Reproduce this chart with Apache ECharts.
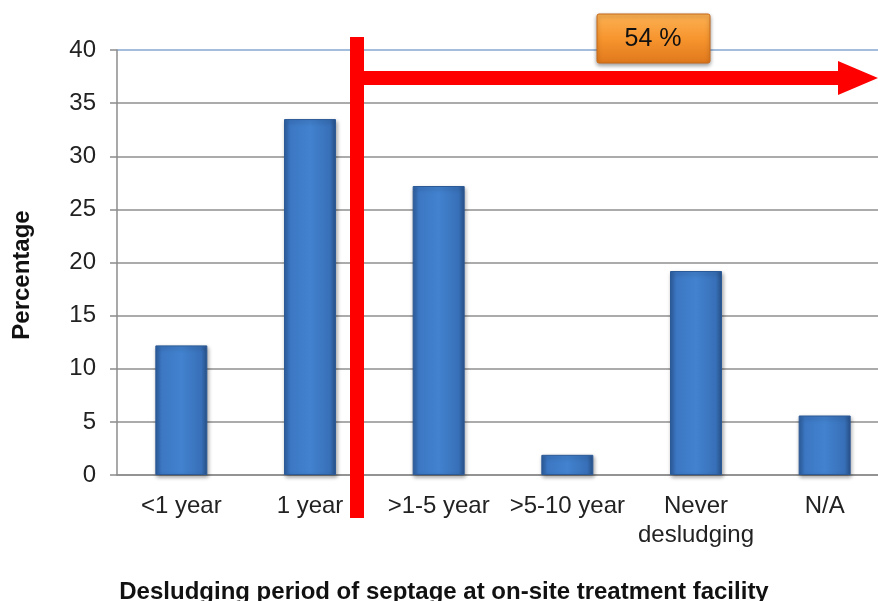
<!DOCTYPE html>
<html><head><meta charset="utf-8">
<script src="https://cdn.jsdelivr.net/npm/echarts@6/dist/echarts.min.js"></script>
<style>html,body{margin:0;padding:0;background:#fff}#c{width:878px;height:601px}</style>
</head><body><div id="c"></div>
<script>
const categories = ['<1 year', '1 year', '>1-5 year', '>5-10 year', 'Never\ndesludging', 'N/A'];
const values = [12.2, 33.5, 27.2, 1.9, 19.2, 5.6];
const yTicks = [0, 5, 10, 15, 20, 25, 30, 35, 40];
const annotationText = '54 %';
const xTitle = 'Desludging period of septage at on-site treatment facility';
const yTitle = 'Percentage';

const chart = echarts.init(document.getElementById('c'));
const gridColors = yTicks.map((v, i) => i === yTicks.length - 1 ? '#a4bddc' : '#ababab');
chart.setOption({
  animation: false,
  grid: { left: 117, top: 50, right: -11, bottom: 126, outerBoundsMode: 'none', containLabel: false },
  xAxis: {
    type: 'category', data: categories,
    axisLine: { lineStyle: { color: '#8c8c8c', width: 1.5 } },
    axisTick: { length: 7, lineStyle: { color: '#8c8c8c', width: 1.5 } },
    axisLabel: { fontFamily: 'Liberation Sans', fontSize: 24, color: '#222', margin: 17, lineHeight: 29, interval: 0 }
  },
  yAxis: {
    type: 'value', min: 0, max: 40, interval: 5,
    axisLine: { show: true, lineStyle: { color: '#8c8c8c', width: 1.5 } },
    axisTick: { show: true, length: 7, lineStyle: { color: '#8c8c8c', width: 1.5 } },
    axisLabel: { fontFamily: 'Liberation Sans', fontSize: 24, color: '#222', margin: 21 },
    splitLine: { lineStyle: { color: gridColors, width: 2 } }
  },
  series: [{
    type: 'bar', data: values, barWidth: 52,
    itemStyle: {
      color: new echarts.graphic.LinearGradient(0, 0, 1, 0, [
        { offset: 0, color: '#2d5e9f' },
        { offset: 0.12, color: '#3c77c3' },
        { offset: 0.5, color: '#4282cf' },
        { offset: 0.88, color: '#3870b8' },
        { offset: 1, color: '#28528a' }
      ]),
      borderColor: '#2c5a96', borderWidth: 1,
      shadowColor: 'rgba(0,0,0,0.35)', shadowBlur: 4, shadowOffsetX: 1, shadowOffsetY: 2
    }
  }],
  graphic: [
    { type: 'text', x: 22, y: 275, rotation: Math.PI / 2,
      style: { text: yTitle, fontFamily: 'Liberation Sans', fontSize: 24, fontWeight: 'bold', fill: '#111', align: 'center', verticalAlign: 'middle' } },
    { type: 'text', x: 444, y: 592,
      style: { text: xTitle, fontFamily: 'Liberation Sans', fontSize: 24, fontWeight: 'bold', fill: '#111', align: 'center', verticalAlign: 'middle' } },
    { type: 'rect', shape: { x: 350, y: 37, width: 14, height: 481 }, style: { fill: '#ff0000' }, z: 100 },
    { type: 'rect', shape: { x: 364, y: 71, width: 476, height: 14 }, style: { fill: '#ff0000' }, z: 100 },
    { type: 'polygon', shape: { points: [[838, 61], [878, 78], [838, 95]] }, style: { fill: '#ff0000' }, z: 100 },
    { type: 'rect', shape: { x: 597, y: 14, width: 113, height: 49, r: 2 },
      style: {
        fill: new echarts.graphic.LinearGradient(0, 0, 0, 1, [
          { offset: 0, color: '#fbb255' }, { offset: 0.5, color: '#f7952e' }, { offset: 1, color: '#e0781c' }
        ]),
        stroke: '#c86a1a', lineWidth: 1,
        shadowColor: 'rgba(0,0,0,0.4)', shadowBlur: 4, shadowOffsetY: 2
      }, z: 100 },
    { type: 'text', x: 653, y: 39, style: { text: annotationText, fontFamily: 'Liberation Sans', fontSize: 25, fill: '#111', align: 'center', verticalAlign: 'middle' }, z: 101 }
  ]
});
</script></body></html>
